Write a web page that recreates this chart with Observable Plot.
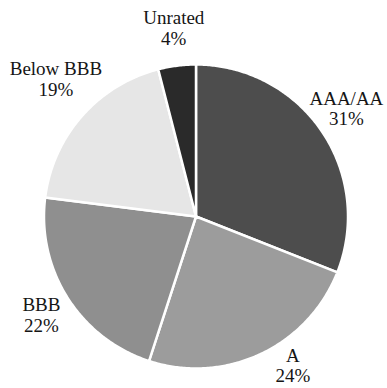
<!DOCTYPE html>
<html>
<head>
<meta charset="utf-8">
<script src="https://cdn.jsdelivr.net/npm/d3@7"></script>
<script src="https://cdn.jsdelivr.net/npm/@observablehq/plot@0.6"></script>
<style>
  html, body { margin: 0; padding: 0; background: #fff; }
  #chart svg { display: block; }
</style>
</head>
<body>
<div id="chart"></div>
<script>
// Credit rating breakdown (share of portfolio, %)
const ratings = ["AAA/AA", "A", "BBB", "Below BBB", "Unrated"];
const shares = [31, 24, 22, 19, 4];
const shades = ["#4d4d4d", "#9c9c9c", "#8f8f8f", "#e6e6e6", "#2a2a2a"];

// Layout: pie centre and radius in pixels
const W = 387, H = 388;
const cx = 195.5, cy = 216, R = 152;
const px = 1 / R; // one pixel in data units

// Slices run clockwise from twelve o'clock
const arcs = d3.pie().sort(null).value(d => d)(shares);

function wedge(a0, a1) {
  const n = Math.max(2, Math.ceil((a1 - a0) / 0.01));
  const pts = [{x: 0, y: 0}];
  for (let i = 0; i <= n; i++) {
    const a = a0 + (a1 - a0) * i / n;
    pts.push({x: Math.sin(a), y: Math.cos(a)});
  }
  pts.push({x: 0, y: 0});
  return pts;
}

// Label placement: along each slice's mid-angle, with small nudges (pixels)
const labelRadius = 1.22;
const nudge = {
  "AAA/AA": [-3, -4],
  "A": [18, -19],
  "BBB": [2, -1],
  "Below BBB": [-1, -15],
  "Unrated": [1, -5]
};
const labelData = arcs.map((a, i) => {
  const mid = (a.startAngle + a.endAngle) / 2;
  const [dx, dy] = nudge[ratings[i]];
  return {
    x: labelRadius * Math.sin(mid) + dx * px,
    y: labelRadius * Math.cos(mid) - dy * px,
    text: `${ratings[i]}\n${shares[i]}%`
  };
});

const sliceMarks = arcs.map((a, i) =>
  Plot.line(wedge(a.startAngle, a.endAngle), {
    x: "x",
    y: "y",
    fill: shades[i],
    stroke: "#ffffff",
    strokeWidth: 2.5,
    strokeLinejoin: "round"
  })
);

const chart = Plot.plot({
  width: W,
  height: H,
  margin: 0,
  style: {background: "#fff"},
  x: {domain: [-cx * px, (W - cx) * px], range: [0, W], axis: null},
  y: {domain: [-(H - cy) * px, cy * px], range: [H, 0], axis: null},
  marks: [
    ...sliceMarks,
    Plot.text(labelData, {
      x: "x",
      y: "y",
      text: "text",
      fontSize: 19,
      lineHeight: 1.1,
      lineAnchor: "middle",
      textAnchor: "middle",
      fontFamily: "'Liberation Serif', 'DejaVu Serif', serif",
      fill: "#151515"
    })
  ]
});

document.getElementById("chart").append(chart);
</script>
</body>
</html>
